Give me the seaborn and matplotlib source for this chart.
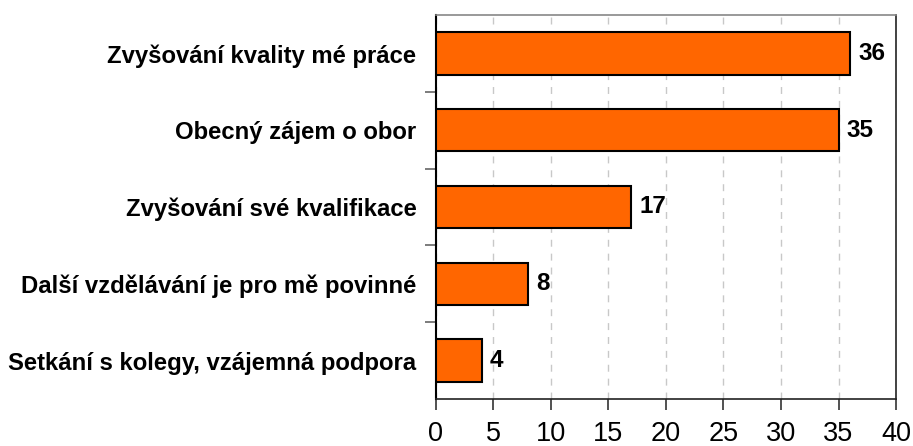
import matplotlib
matplotlib.use("Agg")
import matplotlib.pyplot as plt
import seaborn as sns
import pandas as pd
from matplotlib.ticker import FixedLocator
from matplotlib import font_manager as fm

# Reasons for further education (counts of responses)
categories = [
    "Zvyšování kvality mé práce",
    "Obecný zájem o obor",
    "Zvyšování své kvalifikace",
    "Další vzdělávání je pro mě povinné",
    "Setkání s kolegy, vzájemná podpora",
]
counts = [36, 35, 17, 8, 4]
x_ticks = [0, 5, 10, 15, 20, 25, 30, 35, 40]

df = pd.DataFrame({"reason": categories, "count": counts})


def liberation(weight):
    """Pick the regular-width Liberation Sans file (not the Narrow cut)."""
    for f in fm.fontManager.ttflist:
        name = f.fname.lower()
        if f.name == "Liberation Sans" and "narrow" not in name:
            is_bold = "bold" in name and "italic" not in name
            is_reg = "regular" in name
            if (weight == "bold" and is_bold) or (weight == "normal" and is_reg):
                return fm.FontProperties(fname=f.fname)
    return fm.FontProperties(family="Liberation Sans", weight=weight)


sns.set_theme(style="white")
plt.rcParams["font.family"] = ["Liberation Sans", "DejaVu Sans"]
plt.rcParams["text.color"] = "black"

fp_bold = liberation("bold")
fp_reg = liberation("normal")

fig = plt.figure(figsize=(9.13, 4.46), dpi=100)
ax = fig.add_axes([0.4775, 0.1054, 0.5039, 0.861])

sns.barplot(data=df, x="count", y="reason", orient="h", color="#FF6600",
            saturation=1, width=0.55, edgecolor="black", linewidth=1.5,
            ax=ax, zorder=3)

ax.set_xlim(0, 40)
ax.set_ylim(4.5, -0.5)
ax.xaxis.set_major_locator(FixedLocator(x_ticks))
ax.set_xticklabels([str(t) for t in x_ticks])
ax.grid(axis="x", color="#c8c8c8", linestyle=(0, (5, 5)), linewidth=1, zorder=0)
ax.set_axisbelow(True)

# category labels without ticks; ticks sit at category boundaries
ax.set_yticks(range(len(categories)))
ax.set_yticklabels(categories)
for lab in ax.get_yticklabels():
    lab.set_fontproperties(fp_bold)
    lab.set_fontsize(17.2)
    lab.set_color("black")
ax.tick_params(axis="y", which="major", left=False, length=0, pad=14)
ax.yaxis.set_minor_locator(FixedLocator([0.5, 1.5, 2.5, 3.5]))
ax.tick_params(axis="y", which="minor", left=True, length=8, width=1.2, color="#666666")
ax.tick_params(axis="x", bottom=True, length=8, width=1.2, color="#333333", pad=8)
for lab in ax.get_xticklabels():
    lab.set_fontproperties(fp_reg)
    lab.set_fontsize(19.5)
    lab.set_color("black")

ax.set_xlabel("")
ax.set_ylabel("")

for side in ["left", "bottom", "right"]:
    ax.spines[side].set_visible(True)
    ax.spines[side].set_color("#222222")
    ax.spines[side].set_linewidth(1.2)
ax.spines["left"].set_color("black")
ax.spines["left"].set_linewidth(1.5)
ax.spines["top"].set_color("#888888")
ax.spines["top"].set_linewidth(1.2)

for i, v in enumerate(counts):
    t = ax.text(v + 0.7, i, str(v), va="center", ha="left",
                color="black", zorder=4)
    t.set_fontproperties(fp_bold)
    t.set_fontsize(17.5)

fig.savefig("out.png", dpi=100)
